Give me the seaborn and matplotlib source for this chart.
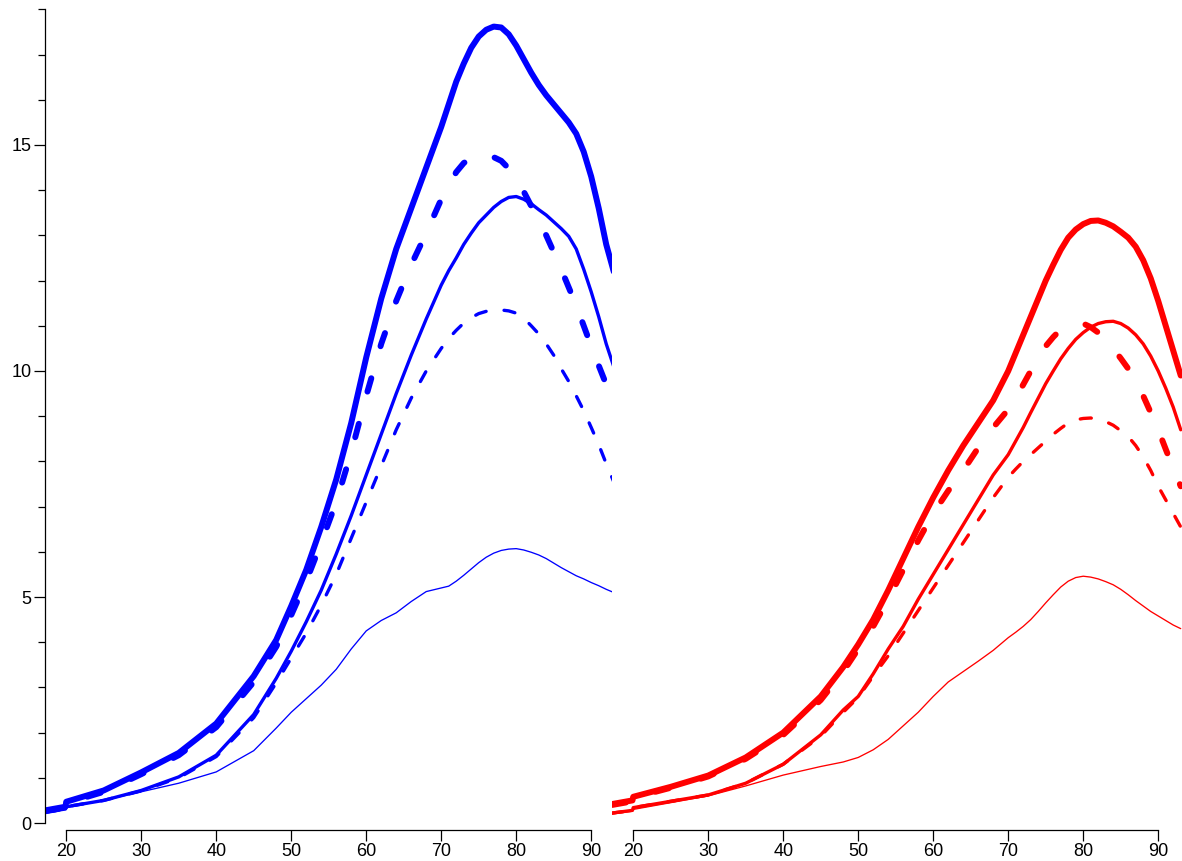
import numpy as np
import pandas as pd
import matplotlib
matplotlib.use("Agg")
import matplotlib.pyplot as plt
from matplotlib.ticker import FixedLocator, NullFormatter, FixedFormatter
import seaborn as sns

# age grid shared by every curve (a short pre-20 segment, then the main run)
age = [17.2, 19.9, 20, 25, 30, 35, 40, 45, 48,
       50, 52, 54, 56, 58, 60, 62, 64, 66, 68, 70,
       71, 72, 73, 74, 75, 76, 77, 78, 79, 80, 81,
       82, 83, 84, 85, 86, 87, 88, 89, 90, 91, 92, 93]

# left panel (blue)
blue_thick_solid = [0.28, 0.36, 0.47, 0.72, 1.12, 1.55, 2.2, 3.25, 4.05,
                    4.8, 5.6, 6.55, 7.6, 8.85, 10.3, 11.6, 12.7, 13.6, 14.5, 15.4,
                    15.9, 16.4, 16.8, 17.15, 17.4, 17.55, 17.62, 17.6, 17.45, 17.2, 16.9,
                    16.6, 16.33, 16.1, 15.9, 15.7, 15.5, 15.25, 14.85, 14.3, 13.6, 12.8, 12.2]
blue_thick_dash = [0.26, 0.34, 0.44, 0.69, 1.08, 1.5, 2.12, 3.12, 3.9,
                   4.6, 5.35, 6.2, 7.1, 8.2, 9.45, 10.6, 11.55, 12.35, 13.05, 13.8,
                   14.1, 14.4, 14.6, 14.72, 14.8, 14.8, 14.73, 14.65, 14.48, 14.25, 13.97,
                   13.65, 13.33, 13.0, 12.63, 12.25, 11.85, 11.45, 11.0, 10.55, 10.12, 9.7, 9.4]
blue_mid_solid = [0.24, 0.31, 0.36, 0.5, 0.72, 1.02, 1.5, 2.4, 3.2,
                  3.8, 4.45, 5.15, 5.95, 6.8, 7.7, 8.6, 9.5, 10.35, 11.15, 11.9,
                  12.22, 12.5, 12.8, 13.05, 13.28, 13.45, 13.62, 13.75, 13.84, 13.86, 13.8,
                  13.7, 13.57, 13.45, 13.3, 13.15, 12.98, 12.7, 12.25, 11.75, 11.2, 10.6, 10.1]
blue_mid_dash = [0.24, 0.31, 0.36, 0.5, 0.71, 1.0, 1.47, 2.33, 3.1,
                 3.65, 4.2, 4.82, 5.5, 6.3, 7.1, 7.9, 8.7, 9.4, 10.0, 10.5,
                 10.72, 10.9, 11.06, 11.18, 11.27, 11.32, 11.35, 11.35, 11.33, 11.28, 11.17,
                 11.0, 10.82, 10.6, 10.35, 10.05, 9.77, 9.45, 9.12, 8.75, 8.37, 7.95, 7.55]
blue_thin = [0.24, 0.3, 0.34, 0.5, 0.69, 0.88, 1.13, 1.6, 2.1,
             2.45, 2.75, 3.05, 3.4, 3.85, 4.25, 4.48, 4.65, 4.9, 5.12, 5.2,
             5.24, 5.35, 5.48, 5.62, 5.76, 5.88, 5.97, 6.03, 6.06, 6.07, 6.04,
             5.99, 5.93, 5.85, 5.75, 5.65, 5.56, 5.47, 5.4, 5.32, 5.25, 5.17, 5.1]

# right panel (red)
red_thick_solid = [0.42, 0.5, 0.58, 0.8, 1.05, 1.45, 2.0, 2.8, 3.45,
                   3.95, 4.5, 5.15, 5.85, 6.55, 7.2, 7.8, 8.35, 8.85, 9.35, 10.0,
                   10.4, 10.8, 11.2, 11.6, 12.0, 12.35, 12.68, 12.95, 13.13, 13.25, 13.32,
                   13.33, 13.28, 13.2, 13.08, 12.95, 12.75, 12.45, 12.05, 11.55, 11.0, 10.45, 9.9]
red_thick_dash = [0.4, 0.48, 0.56, 0.78, 1.03, 1.42, 1.95, 2.72, 3.35,
                  3.85, 4.35, 4.95, 5.6, 6.25, 6.85, 7.35, 7.8, 8.3, 8.75, 9.15,
                  9.4, 9.7, 10.0, 10.3, 10.55, 10.75, 10.92, 11.0, 11.05, 11.05, 10.97,
                  10.85, 10.7, 10.5, 10.28, 10.05, 9.77, 9.45, 9.08, 8.7, 8.27, 7.85, 7.45]
red_mid_solid = [0.22, 0.28, 0.34, 0.48, 0.62, 0.88, 1.3, 1.95, 2.5,
                 2.8, 3.3, 3.85, 4.35, 4.95, 5.5, 6.05, 6.6, 7.15, 7.7, 8.15,
                 8.45, 8.75, 9.08, 9.4, 9.72, 10.0, 10.27, 10.5, 10.7, 10.85, 10.97,
                 11.05, 11.09, 11.1, 11.05, 10.95, 10.8, 10.6, 10.33, 10.0, 9.62, 9.2, 8.7]
red_mid_dash = [0.22, 0.28, 0.34, 0.48, 0.62, 0.88, 1.3, 1.92, 2.45,
                2.78, 3.25, 3.7, 4.2, 4.7, 5.2, 5.7, 6.2, 6.7, 7.2, 7.65,
                7.83, 8.0, 8.15, 8.3, 8.45, 8.6, 8.73, 8.85, 8.92, 8.95, 8.96,
                8.93, 8.88, 8.8, 8.68, 8.55, 8.35, 8.1, 7.8, 7.45, 7.15, 6.85, 6.55]
red_thin = [0.2, 0.26, 0.3, 0.45, 0.6, 0.82, 1.06, 1.25, 1.35,
            1.45, 1.62, 1.85, 2.15, 2.45, 2.8, 3.12, 3.35, 3.58, 3.82, 4.1,
            4.22, 4.35, 4.5, 4.68, 4.87, 5.05, 5.22, 5.35, 5.43, 5.46, 5.44,
            5.4, 5.34, 5.27, 5.17, 5.05, 4.92, 4.8, 4.68, 4.58, 4.48, 4.38, 4.3]

x_ticks = [20, 30, 40, 50, 60, 70, 80, 90]
y_major = [0, 5, 10, 15]
y_minor = [v for v in range(0, 19) if v not in y_major]

sns.set_theme(style="white")
plt.rcParams["font.family"] = ["Liberation Sans", "DejaVu Sans"]
plt.rcParams["lines.scale_dashes"] = False

W, H = 1182, 861
fig = plt.figure(figsize=(W / 100, H / 100), dpi=100)
fig.patch.set_facecolor("white")

px_per_year = 7.5
x_start = 17.17
ax_bottom_px = 830
left_w, right_w = 567, 570
ax_l = fig.add_axes([45 / W, (H - ax_bottom_px) / H, left_w / W, ax_bottom_px / H])
ax_r = fig.add_axes([612 / W, (H - ax_bottom_px) / H, right_w / W, ax_bottom_px / H])

y0_px, px_per_unit = 823, 45.2
ylim = (-(ax_bottom_px - y0_px) / px_per_unit, y0_px / px_per_unit)

styles = {
    "thick_solid": dict(linewidth=4.3, linestyle="-"),
    "thick_dash": dict(linewidth=4.3, linestyle=(0, (10, 24))),
    "mid_solid": dict(linewidth=2.4, linestyle="-"),
    "mid_dash": dict(linewidth=2.4, linestyle=(0, (8, 13))),
    "thin": dict(linewidth=0.95, linestyle="-"),
}

panels = [
    (ax_l, "#0000ff", (x_start, x_start + left_w / px_per_year),
     [("thick_solid", blue_thick_solid), ("thick_dash", blue_thick_dash),
      ("mid_solid", blue_mid_solid), ("mid_dash", blue_mid_dash), ("thin", blue_thin)]),
    (ax_r, "#ff0000", (x_start, x_start + right_w / px_per_year),
     [("thick_solid", red_thick_solid), ("thick_dash", red_thick_dash),
      ("mid_solid", red_mid_solid), ("mid_dash", red_mid_dash), ("thin", red_thin)]),
]

for ax, color, xlim, series in panels:
    ax.set_facecolor("none")
    for key, vals in series:
        df = pd.DataFrame({"age": age, "value": vals})
        sns.lineplot(data=df, x="age", y="value", ax=ax, color=color,
                     estimator=None, sort=False,
                     solid_capstyle="round", dash_capstyle="round",
                     solid_joinstyle="round", **styles[key])
    ax.set_xlim(*xlim)
    ax.set_ylim(*ylim)
    ax.set_xlabel("")
    ax.set_ylabel("")
    for s in ("top", "right"):
        ax.spines[s].set_visible(False)
    ax.spines["bottom"].set_bounds(20, 90)
    ax.spines["bottom"].set_color("black")
    ax.spines["bottom"].set_linewidth(0.9)
    ax.xaxis.set_major_locator(FixedLocator(x_ticks))
    ax.set_xticklabels([str(t) for t in x_ticks])
    ax.tick_params(axis="x", which="major", bottom=True, direction="out",
                   length=8, width=0.9, color="black", labelsize=13,
                   labelcolor="black", pad=1.5)
    ax.grid(False)

# shared value axis drawn on the left panel only
ax_l.spines["left"].set_bounds(0, 18)
ax_l.spines["left"].set_color("black")
ax_l.spines["left"].set_linewidth(0.9)
ax_l.yaxis.set_major_locator(FixedLocator(y_major))
ax_l.yaxis.set_minor_locator(FixedLocator(y_minor))
ax_l.yaxis.set_major_formatter(FixedFormatter([str(v) for v in y_major]))
ax_l.yaxis.set_minor_formatter(NullFormatter())
ax_l.tick_params(axis="y", which="major", left=True, direction="out",
                 length=8, width=0.9, color="black", labelsize=13,
                 labelcolor="black", pad=1.5)
ax_l.tick_params(axis="y", which="minor", left=True, direction="out",
                 length=5, width=0.9, color="black")

ax_r.spines["left"].set_visible(False)
ax_r.tick_params(axis="y", left=False, labelleft=False)
ax_r.set_yticks([])

fig.savefig("out.png", dpi=100, facecolor="white")
